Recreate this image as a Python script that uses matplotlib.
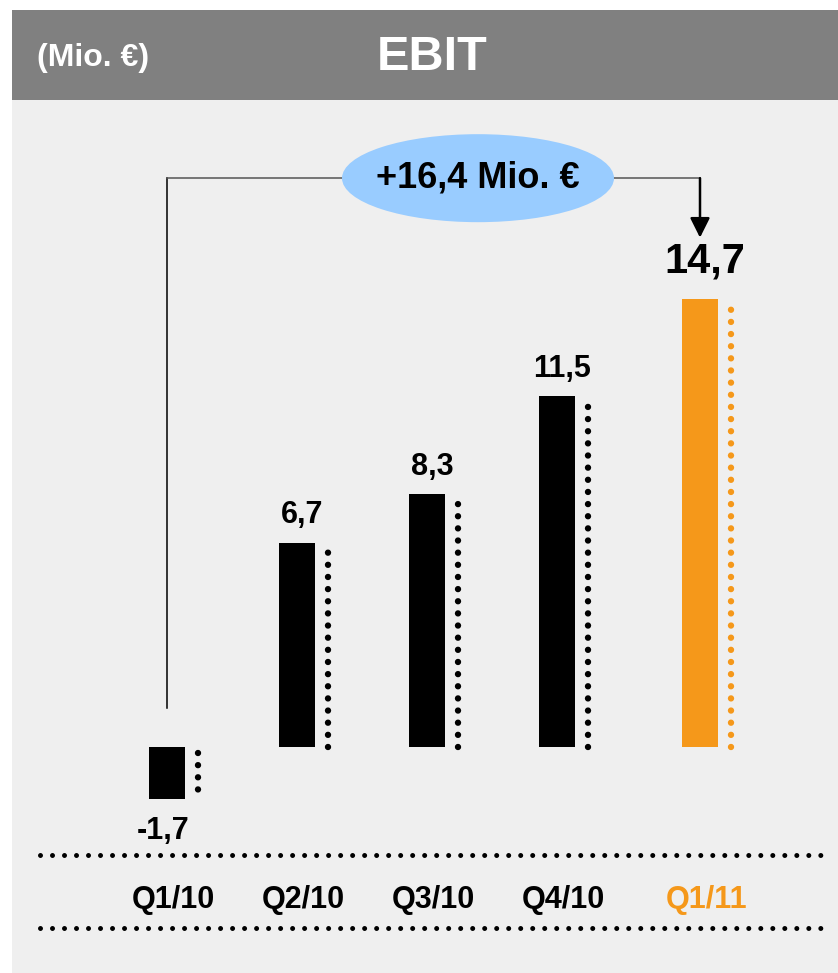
import numpy as np
import matplotlib
matplotlib.use('Agg')
import matplotlib.pyplot as plt
from matplotlib.patches import Rectangle, Ellipse

plt.rcParams['font.family'] = ['Liberation Sans', 'DejaVu Sans']

# data
quarters = ['Q1/10', 'Q2/10', 'Q3/10', 'Q4/10', 'Q1/11']
ebit = [-1.7, 6.7, 8.3, 11.5, 14.7]
value_labels = ['-1,7', '6,7', '8,3', '11,5', '14,7']
delta_label = '+16,4 Mio. €'
unit_label = '(Mio. €)'
title = 'EBIT'

black = '#000000'
orange = '#f5981a'
colors = [black, black, black, black, orange]
xpos = np.array([0, 1, 2, 3, 4.1])

W, H = 838, 973
fig = plt.figure(figsize=(W / 100, H / 100), dpi=100)
fig.patch.set_facecolor('white')

# background panel + header band (figure coords)
fig.patches.append(Rectangle((12 / W, 0), 1 - 12 / W, 1 - 10 / H, transform=fig.transFigure,
                             facecolor='#efefef', edgecolor='none', zorder=-10))
fig.patches.append(Rectangle((12 / W, 1 - 100 / H), 1 - 12 / W, 90 / H, transform=fig.transFigure,
                             facecolor='#808080', edgecolor='none', zorder=-9))
fig.text(37 / W, 1 - 58 / H, unit_label, color='white', fontsize=23, fontweight='bold',
         ha='left', va='center')
fig.text(432 / W, 1 - 57 / H, title, color='white', fontsize=35, fontweight='bold',
         ha='center', va='center')

# main axes mapped to pixels: x unit = 130 px, y unit = 30.5 px
ax = fig.add_axes([0, 0, 1, 1])
ax.set_facecolor('none')
ax.axis('off')
xu, yu = 130.0, 30.5
x0px, base_px = 167.0, 747.0
ax.set_xlim(-x0px / xu, (W - x0px) / xu)
ax.set_ylim((base_px - H) / yu, base_px / yu)

bw = 36 / xu
ax.bar(xpos, ebit, width=bw, color=colors, zorder=3)

# dotted guides next to bars
dot_style = dict(linestyle=(0, (0.001, 1.9)), dash_capstyle='round', linewidth=4.6)
for x, v, c in zip(xpos, ebit, colors):
    if v < 0:
        ax.plot([x + 0.24, x + 0.24], [-0.2, v], color=c, **dot_style)
    else:
        ax.plot([x + 0.24, x + 0.24], [0, v - 0.1], color=c, **dot_style)

# value labels
for i, (x, v, lab) in enumerate(zip(xpos, ebit, value_labels)):
    if v < 0:
        ax.text(x - 0.03, v - 0.55, lab, ha='center', va='top', fontsize=22, fontweight='bold')
    elif i == len(ebit) - 1:
        ax.text(x + 0.04, v + 0.55, lab, ha='center', va='bottom', fontsize=30, fontweight='bold')
    else:
        ax.text(x + 0.04, v + 0.4, lab, ha='center', va='bottom', fontsize=22, fontweight='bold')

# quarter labels between dotted rules
lab_y = (base_px - 900) / yu
for x, q, c in zip(xpos, quarters, colors):
    ax.text(x + 0.05, lab_y, q, ha='center', va='center', fontsize=22, fontweight='bold', color=c)

rule_style = dict(linestyle=(0, (0.001, 2.4)), dash_capstyle='round', linewidth=3.6, color=black)
for ypx in [855, 928]:
    yy = (base_px - ypx) / yu
    ax.plot([(40 - x0px) / xu, (825 - x0px) / xu], [yy, yy], **rule_style)

# bracket with delta bubble
by = max(ebit) + 3.95
ax.plot([xpos[0], xpos[0]], [1.28, by], color=black, lw=1.1, zorder=2)
ax.plot([xpos[0], xpos[-1]], [by, by], color='#555555', lw=1.1, zorder=2)
ax.annotate('', xy=(xpos[-1], max(ebit) + 2.0), xytext=(xpos[-1], by),
            arrowprops=dict(arrowstyle='-|>', color=black, lw=1.8, mutation_scale=30,
                            shrinkA=0, shrinkB=0), zorder=4)
ex = (478 - x0px) / xu
ax.add_patch(Ellipse((ex, by), 272 / xu, 88 / yu, facecolor='#99ccff', edgecolor='none', zorder=5))
ax.text(ex, by, delta_label, ha='center', va='center', fontsize=26, fontweight='bold', zorder=6)

fig.savefig('out.png', dpi=100)
